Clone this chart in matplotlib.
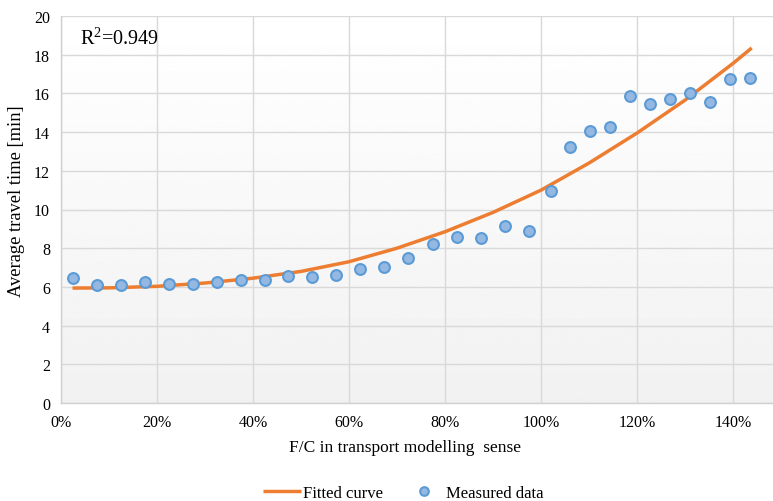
import matplotlib.pyplot as plt
import numpy as np
from matplotlib.ticker import FuncFormatter

plt.rcParams['font.family'] = ['Liberation Serif', 'DejaVu Serif']
plt.rcParams['mathtext.fontset'] = 'custom'
plt.rcParams['mathtext.rm'] = 'Liberation Serif'

# measured points (F/C as fraction, travel time in min)
fc_measured = [0.024, 0.075, 0.124, 0.175, 0.224, 0.274, 0.324, 0.374, 0.424, 0.473,
               0.523, 0.573, 0.623, 0.673, 0.722, 0.774, 0.824, 0.874, 0.924, 0.974,
               1.020, 1.060, 1.103, 1.144, 1.186, 1.227, 1.269, 1.310, 1.352, 1.393, 1.435]
time_measured = [6.46, 6.08, 6.08, 6.25, 6.13, 6.17, 6.25, 6.34, 6.34, 6.58,
                 6.52, 6.63, 6.94, 7.05, 7.50, 8.21, 8.59, 8.54, 9.17, 8.91,
                 10.97, 13.21, 14.04, 14.26, 15.87, 15.45, 15.73, 16.03, 15.56, 16.75, 16.80]

# fitted curve
fc_fit = [0.024, 0.1, 0.2, 0.3, 0.4, 0.5, 0.6, 0.7, 0.8, 0.9, 1.0, 1.1, 1.2, 1.3, 1.4, 1.439]
time_fit = [5.94, 5.95, 6.03, 6.2, 6.45, 6.8, 7.3, 8.0, 8.85, 9.85, 11.0, 12.4, 13.95, 15.65, 17.55, 18.35]

r2_text = r'R$^{\mathrm{2}}$=0.949'

W, H = 773, 502
fig = plt.figure(figsize=(W / 100, H / 100), dpi=100)
ax = fig.add_axes([61 / W, (H - 404) / H, (781 - 61) / W, (404 - 17) / H])

# light vertical gradient behind the plot
grad = np.linspace(0.945, 1.0, 256)[:, None]
ax.imshow(grad, extent=[0, 1.5, 0, 20], aspect='auto', cmap='gray',
          vmin=0, vmax=1, origin='lower', zorder=0)

ax.set_xlim(0, 1.5)
ax.set_ylim(0, 20)
ax.set_xticks(np.arange(0, 1.41, 0.2))
ax.set_yticks(np.arange(0, 21, 2))
ax.xaxis.set_major_formatter(FuncFormatter(lambda v, p: f'{v * 100:.0f}%'))
ax.grid(True, color='#d9d9d9', linewidth=1.0, zorder=1)
ax.set_axisbelow(True)
for s in ['top', 'right']:
    ax.spines[s].set_visible(False)
for s in ['left', 'bottom']:
    ax.spines[s].set_color('#d0d0d0')
    ax.spines[s].set_linewidth(1.0)
ax.tick_params(length=0, labelsize=11.5, colors='black', pad=8)

ax.plot(fc_fit, time_fit, color='#ED7D31', linewidth=2.5, label='Fitted curve', zorder=3,
        solid_capstyle='butt')
ax.plot(fc_measured, time_measured, linestyle='none', marker='o', markersize=7.8,
        markerfacecolor='#95B8E3', markeredgecolor='#5B9BD5', markeredgewidth=1.5,
        label='Measured data', zorder=4)

ax.text(0.04, 18.85, r2_text, fontsize=14.5, va='center', ha='left')

fig.text(17 / W, 1 - 201 / H, 'Average travel time [min]', fontsize=13.3,
         rotation=90, ha='center', va='center')
fig.text(405 / W, 1 - 448 / H, 'F/C in transport modelling  sense', fontsize=12.5,
         ha='center', va='center')

fig.legend(loc='center', bbox_to_anchor=(403 / W, 1 - 494 / H), ncol=2, frameon=False,
           fontsize=12, handlelength=2.3, columnspacing=1.3, handletextpad=0.15,
           markerscale=0.8)

fig.savefig('out.png', dpi=100)
